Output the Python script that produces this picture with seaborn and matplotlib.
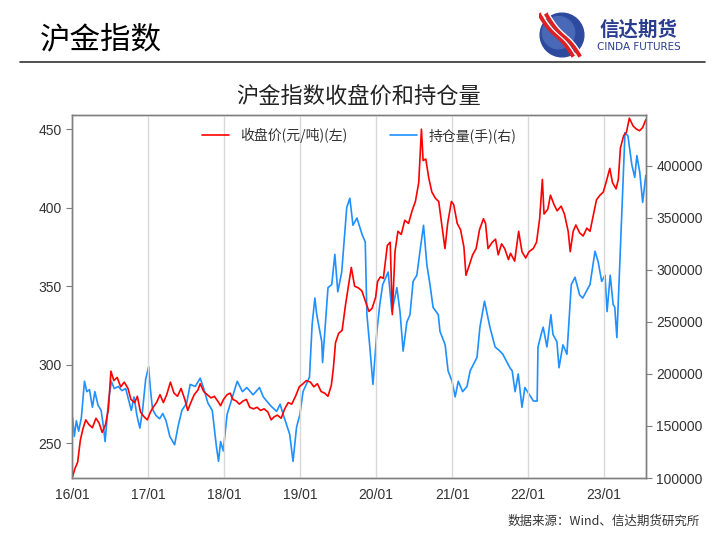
import numpy as np
import pandas as pd
import matplotlib
matplotlib.use("Agg")
import matplotlib.pyplot as plt
import matplotlib.dates as mdates
from matplotlib.patches import Circle
import seaborn as sns

sns.set_style("white")
plt.rcParams['font.family'] = ['Noto Sans CJK SC', 'DejaVu Sans']
plt.rcParams['axes.unicode_minus'] = False

# 收盘价 (元/克)
price_dates = [
    '2016-01-04', '2016-01-15', '2016-01-28', '2016-02-10', '2016-02-22', '2016-03-07', '2016-03-22',
    '2016-04-08', '2016-04-25', '2016-05-10', '2016-05-25', '2016-06-10', '2016-06-24', '2016-07-06',
    '2016-07-20', '2016-08-05', '2016-08-22', '2016-09-08', '2016-09-26', '2016-10-10', '2016-10-28',
    '2016-11-10', '2016-11-25', '2016-12-12', '2016-12-28', '2017-01-12', '2017-01-25', '2017-02-10',
    '2017-02-27', '2017-03-15', '2017-03-31', '2017-04-18', '2017-05-05', '2017-05-22', '2017-06-08',
    '2017-06-26', '2017-07-10', '2017-07-25', '2017-08-10', '2017-08-28', '2017-09-08', '2017-09-25',
    '2017-10-12', '2017-10-30', '2017-11-15', '2017-12-01', '2017-12-15', '2017-12-29', '2018-01-15',
    '2018-01-30', '2018-02-12', '2018-02-28', '2018-03-15', '2018-04-02', '2018-04-18', '2018-05-04',
    '2018-05-22', '2018-06-08', '2018-06-25', '2018-07-12', '2018-07-30', '2018-08-15', '2018-08-30',
    '2018-09-14', '2018-10-02', '2018-10-19', '2018-11-05', '2018-11-22', '2018-12-10', '2018-12-28',
    '2019-01-15', '2019-01-31', '2019-02-20', '2019-03-08', '2019-03-25', '2019-04-12', '2019-04-29',
    '2019-05-15', '2019-05-31', '2019-06-10', '2019-06-20', '2019-07-05', '2019-07-22', '2019-08-07',
    '2019-08-20', '2019-09-04', '2019-09-20', '2019-10-08', '2019-10-25', '2019-11-12', '2019-11-28',
    '2019-12-13', '2019-12-30', '2020-01-08', '2020-01-22', '2020-02-05', '2020-02-24', '2020-03-09',
    '2020-03-19', '2020-04-01', '2020-04-15', '2020-05-01', '2020-05-18', '2020-06-05', '2020-06-22',
    '2020-07-08', '2020-07-24', '2020-08-06', '2020-08-14', '2020-08-27', '2020-09-10', '2020-09-25',
    '2020-10-12', '2020-10-28', '2020-11-09', '2020-11-27', '2020-12-10', '2020-12-28', '2021-01-08',
    '2021-01-25', '2021-02-10', '2021-02-26', '2021-03-08', '2021-03-25', '2021-04-09', '2021-04-26',
    '2021-05-12', '2021-05-31', '2021-06-10', '2021-06-22', '2021-07-12', '2021-07-28', '2021-08-10',
    '2021-08-26', '2021-09-10', '2021-09-28', '2021-10-08', '2021-10-28', '2021-11-08', '2021-11-16',
    '2021-12-02', '2021-12-20', '2022-01-05', '2022-01-25', '2022-02-10', '2022-02-25', '2022-03-10',
    '2022-03-18', '2022-04-05', '2022-04-18', '2022-05-05', '2022-05-20', '2022-06-08', '2022-06-24',
    '2022-07-12', '2022-07-22', '2022-08-05', '2022-08-18', '2022-09-05', '2022-09-22', '2022-10-10',
    '2022-10-25', '2022-11-08', '2022-11-25', '2022-12-12', '2022-12-28', '2023-01-12', '2023-01-28',
    '2023-02-10', '2023-02-27', '2023-03-10', '2023-03-20', '2023-04-05', '2023-04-18', '2023-05-02',
    '2023-05-20', '2023-06-05', '2023-06-20', '2023-07-05', '2023-07-20',
]
price_values = [
    229, 234, 238, 252, 259, 265, 262,
    260, 266, 263, 257, 262, 272, 296,
    290, 292, 286, 289, 285, 278, 276,
    280, 270, 267, 265, 270, 273, 276,
    281, 276, 281, 289, 282, 280, 285,
    278, 271, 276, 281, 284, 288, 283,
    281, 279, 280, 277, 274, 278, 281,
    282, 278, 277, 275, 277, 278, 273,
    272, 273, 271, 272, 270, 265, 267,
    268, 266, 272, 276, 275, 280, 286,
    288, 290, 289, 286, 288, 283, 282,
    280, 287, 298, 314, 320, 322, 338,
    349, 362, 350, 349, 347, 340, 334,
    336, 343, 353, 356, 355, 376, 378,
    332, 372, 385, 383, 392, 390, 398,
    404, 416, 450, 430, 431, 419, 410,
    406, 404, 392, 374, 390, 404, 402,
    390, 386, 375, 357, 364, 370, 374,
    386, 393, 390, 374, 378, 380, 370,
    377, 374, 367, 371, 366, 377, 385,
    372, 368, 372, 374, 378, 393, 418,
    396, 399, 408, 402, 398, 401, 396,
    385, 372, 385, 389, 384, 382, 387,
    385, 394, 405, 408, 410, 417, 425,
    416, 412, 418, 438, 446, 448, 457,
    452, 450, 449, 451, 456,
]

# 持仓量 (手)
oi_dates = [
    '2016-01-04', '2016-01-12', '2016-01-22', '2016-02-02', '2016-02-15', '2016-03-01', '2016-03-12',
    '2016-03-25', '2016-04-08', '2016-04-20', '2016-05-05', '2016-05-20', '2016-06-01', '2016-06-08',
    '2016-06-25', '2016-07-08', '2016-07-22', '2016-08-10', '2016-08-28', '2016-09-15', '2016-09-28',
    '2016-10-12', '2016-10-25', '2016-11-08', '2016-11-22', '2016-12-05', '2016-12-20', '2017-01-03',
    '2017-01-12', '2017-01-22', '2017-02-08', '2017-02-25', '2017-03-12', '2017-03-28', '2017-04-15',
    '2017-05-08', '2017-05-25', '2017-06-12', '2017-07-05', '2017-07-22', '2017-08-15', '2017-09-08',
    '2017-09-25', '2017-10-15', '2017-11-05', '2017-11-25', '2017-12-05', '2017-12-15', '2017-12-28',
    '2018-01-15', '2018-02-10', '2018-03-05', '2018-03-30', '2018-04-20', '2018-05-20', '2018-06-20',
    '2018-07-08', '2018-08-10', '2018-09-10', '2018-09-27', '2018-10-12', '2018-11-12', '2018-11-28',
    '2018-12-15', '2018-12-31', '2019-01-15', '2019-02-15', '2019-02-28', '2019-03-13', '2019-03-22',
    '2019-04-15', '2019-04-19', '2019-05-15', '2019-06-02', '2019-06-17', '2019-07-01', '2019-07-20',
    '2019-08-13', '2019-08-28', '2019-09-12', '2019-10-01', '2019-10-26', '2019-11-10', '2019-11-18',
    '2019-12-02', '2019-12-17', '2020-01-05', '2020-01-19', '2020-02-02', '2020-02-28', '2020-03-17',
    '2020-04-10', '2020-04-25', '2020-05-10', '2020-05-28', '2020-06-12', '2020-06-27', '2020-07-15',
    '2020-07-30', '2020-08-16', '2020-09-01', '2020-09-16', '2020-10-01', '2020-10-26', '2020-11-03',
    '2020-11-28', '2020-12-12', '2020-12-31', '2021-01-15', '2021-01-30', '2021-02-20', '2021-03-13',
    '2021-03-28', '2021-04-30', '2021-05-14', '2021-06-05', '2021-07-01', '2021-07-26', '2021-08-18',
    '2021-09-01', '2021-10-05', '2021-10-16', '2021-10-30', '2021-11-14', '2021-12-02', '2021-12-16',
    '2022-01-26', '2022-02-13', '2022-02-17', '2022-03-08', '2022-03-14', '2022-04-01', '2022-04-20',
    '2022-04-30', '2022-05-19', '2022-05-29', '2022-06-17', '2022-07-06', '2022-07-27', '2022-08-14',
    '2022-09-05', '2022-09-20', '2022-10-25', '2022-11-18', '2022-12-03', '2022-12-20', '2023-01-05',
    '2023-01-15', '2023-01-30', '2023-02-13', '2023-02-21', '2023-03-03', '2023-03-08', '2023-03-27',
    '2023-04-11', '2023-04-25', '2023-05-14', '2023-05-28', '2023-06-07', '2023-06-21', '2023-07-05',
    '2023-07-20',
]
oi_values = [
    158000, 140000, 155000, 145000, 158000, 193000, 183000,
    185000, 168000, 183000, 170000, 165000, 148000, 135000,
    175000, 193000, 186000, 188000, 184000, 186000, 176000,
    165000, 178000, 160000, 148000, 165000, 195000, 207000,
    185000, 166000, 160000, 157000, 162000, 155000, 140000,
    132000, 150000, 165000, 172000, 190000, 188000, 196000,
    186000, 172000, 165000, 130000, 116000, 135000, 126000,
    161000, 178000, 193000, 183000, 187000, 180000, 187000,
    178000, 170000, 164000, 171000, 161000, 142000, 116000,
    149000, 161000, 183000, 197000, 248000, 273000, 257000,
    231000, 211000, 283000, 286000, 315000, 279000, 298000,
    360000, 369000, 343000, 350000, 334000, 327000, 257000,
    226000, 190000, 241000, 267000, 286000, 298000, 260000,
    283000, 260000, 222000, 250000, 257000, 289000, 295000,
    318000, 343000, 305000, 286000, 264000, 257000, 241000,
    228000, 203000, 193000, 178000, 193000, 183000, 188000,
    203000, 216000, 245000, 270000, 245000, 226000, 222000,
    219000, 206000, 203000, 183000, 200000, 168000, 187000,
    174000, 174000, 226000, 241000, 245000, 226000, 257000,
    238000, 231000, 206000, 228000, 219000, 286000, 293000,
    276000, 273000, 286000, 318000, 308000, 289000, 295000,
    260000, 295000, 267000, 264000, 235000, 260000, 353000,
    432000, 429000, 401000, 389000, 410000, 394000, 365000,
    391000,
]

price_df = pd.DataFrame({'date': pd.to_datetime(price_dates), 'price': price_values})
oi_df = pd.DataFrame({'date': pd.to_datetime(oi_dates), 'oi': oi_values})

red = '#FF0000'
blue = '#1E90FF'
spine_c = '#7F7F7F'

fig = plt.figure(figsize=(7.2, 5.4), dpi=100)

# header
fig.text(40 / 720, 1 - 40 / 540, '沪金指数', fontsize=22, va='center', ha='left', color='black')
fig.add_artist(plt.Line2D([20 / 720, 705 / 720], [1 - 62 / 540, 1 - 62 / 540],
                          color='#333333', lw=1.2))
fig.text(600 / 720, 1 - 30 / 540, '信达期货', fontsize=14, fontweight='bold', color='#2A3D8F',
         va='center', ha='left')
fig.text(597 / 720, 1 - 47 / 540, 'CINDA FUTURES', fontsize=7.5, color='#2A3D8F',
         va='center', ha='left', family=['Liberation Sans Narrow', 'DejaVu Sans'])

# logo
lax = fig.add_axes([538 / 720, 1 - 58 / 540, 48 / 720, 46 / 540])
lax.set_xlim(-1, 1)
lax.set_ylim(-1, 1)
lax.set_aspect('equal')
lax.axis('off')
lax.add_patch(Circle((0, 0), 0.95, color='#2E4A9E'))
lax.add_patch(Circle((-0.15, 0.1), 0.7, color='#4A68B8'))
t = np.linspace(-1, 1, 50)
for off in (-0.25, 0.05):
    lax.plot(t * 0.75 + off, -t * 0.95 + 0.1 * np.sin(t * 3), color='#E02020', lw=3.2,
             solid_capstyle='butt')
    lax.plot(t * 0.75 + off + 0.12, -t * 0.95 + 0.1 * np.sin(t * 3), color='white', lw=1.0)

# chart
ax = fig.add_axes([72 / 720, 1 - 478 / 540, 574 / 720, 363 / 540])
sns.lineplot(data=price_df, x='date', y='price', ax=ax, color=red, lw=1.2,
             label='收盘价(元/吨)(左)', legend=False)
ax2 = ax.twinx()
sns.lineplot(data=oi_df, x='date', y='oi', ax=ax2, color=blue, lw=1.2,
             label='持仓量(手)(右)', legend=False)
ax.set_zorder(ax2.get_zorder() + 1)
ax.patch.set_visible(False)

ax.set_xlim(pd.Timestamp('2016-01-01'), pd.Timestamp('2023-07-21'))
ax.set_ylim(228, 459)
ax2.set_ylim(100000, 449000)
ax.set_yticks([250, 300, 350, 400, 450])
ax2.set_yticks([100000, 150000, 200000, 250000, 300000, 350000, 400000])
ax2.yaxis.set_major_formatter(matplotlib.ticker.FuncFormatter(lambda v, p: f'{int(v)}'))

ax.xaxis.set_major_locator(mdates.YearLocator())
ax.xaxis.set_major_formatter(mdates.DateFormatter('%y/%m'))
ax.grid(axis='x', color='#D9D9D9', lw=1)
ax.grid(axis='y', visible=False)
ax2.grid(False)
ax.set_xlabel('')
ax.set_ylabel('')
ax2.set_ylabel('')

for a in (ax, ax2):
    for s in a.spines.values():
        s.set_color(spine_c)
        s.set_linewidth(1.0)
    a.tick_params(axis='both', labelsize=10, colors='#333333', length=4, width=0.8,
                  direction='out')
ax.tick_params(axis='x', length=4, color=spine_c)
ax.tick_params(axis='y', left=True, color=spine_c)
ax2.tick_params(axis='y', right=True, color=spine_c)
for lbl in ax.get_xticklabels() + ax.get_yticklabels() + ax2.get_yticklabels():
    lbl.set_family(['Liberation Sans', 'DejaVu Sans'])

h1, l1 = ax.get_legend_handles_labels()
h2, l2 = ax2.get_legend_handles_labels()
leg = ax.legend(h1 + h2, l1 + l2, loc='upper center', ncol=2, frameon=False, fontsize=10,
                bbox_to_anchor=(0.5, 1.0), columnspacing=3.0, handlelength=2.0)
for txt in leg.get_texts():
    txt.set_color('#333333')

ax.set_title('沪金指数收盘价和持仓量', fontsize=16, color='#222222', pad=8)

fig.text(700 / 720, 1 - 521 / 540, '数据来源：Wind、信达期货研究所', fontsize=9,
         color='#333333', ha='right', va='center')

fig.savefig('out.png', dpi=100)
